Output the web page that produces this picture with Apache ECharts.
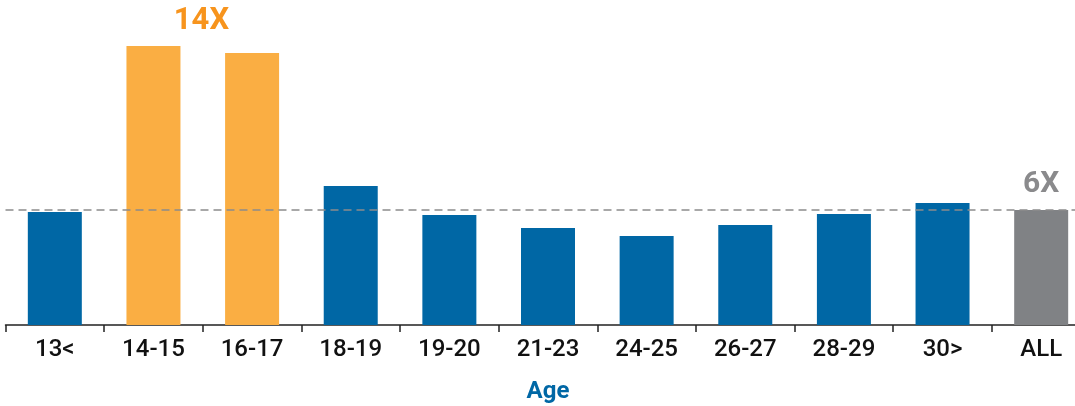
<!DOCTYPE html>
<html>
<head>
<meta charset="utf-8">
<script src="https://cdn.jsdelivr.net/npm/echarts@6/dist/echarts.min.js"></script>
<style>
html,body{margin:0;padding:0;background:#fff;}
#c{width:1075px;height:406px;}
</style>
</head>
<body>
<div id="c"></div>
<script>
const categories = ['13<', '14-15', '16-17', '18-19', '19-20', '21-23', '24-25', '26-27', '28-29', '30>', 'ALL'];
const values = [5.9, 14.56, 14.19, 7.25, 5.74, 5.06, 4.64, 5.22, 5.79, 6.37, 6.0];
const barKinds = ['base', 'high', 'high', 'base', 'base', 'base', 'base', 'base', 'base', 'base', 'all'];
const averageValue = 6;
const highLabel = '14X';
const averageLabel = '6X';
const axisName = 'Age';

const colors = { base: '#0067A5', high: '#FAAE43', all: '#808285' };
const FONT = 'Roboto, Inter, sans-serif';

const data = values.map((v, i) => {
  const item = { value: v, itemStyle: { color: colors[barKinds[i]] } };
  if (i === 1) {
    item.label = {
      show: true, position: 'top', formatter: highLabel, offset: [48, 0], distance: 9,
      color: '#F7941D', fontSize: 31, fontWeight: 'bold', fontFamily: FONT
    };
  }
  if (i === values.length - 1) {
    item.label = {
      show: true, position: 'top', formatter: averageLabel, distance: 11,
      color: '#8A8A8C', fontSize: 30, fontWeight: 'bold', fontFamily: FONT
    };
  }
  return item;
});

const chart = echarts.init(document.getElementById('c'), null, { renderer: 'canvas' });
chart.setOption({
  animation: false,
  grid: { left: 5.5, top: 37.5, width: 1085, bottom: 81, containLabel: false, outerBoundsMode: 'none' },
  xAxis: {
    type: 'category',
    data: categories,
    name: axisName,
    nameLocation: 'middle',
    nameGap: 55,
    nameTextStyle: { color: '#0067A5', fontSize: 24, fontWeight: 'bold', fontFamily: FONT },
    axisLine: { lineStyle: { color: '#222', width: 1.5 } },
    axisTick: { show: true, length: 7, lineStyle: { color: '#222', width: 1.5 } },
    axisLabel: { color: '#111', fontSize: 24, fontWeight: 500, margin: 13, fontFamily: FONT }
  },
  yAxis: {
    type: 'value', min: 0, max: 15, show: false, splitLine: { show: false }
  },
  series: [{
    type: 'bar',
    data: data,
    barWidth: 54,
    markLine: {
      silent: true,
      symbol: 'none',
      label: { show: false },
      lineStyle: { color: '#8C8C8C', type: [8, 5], width: 1.5 },
      data: [{ yAxis: averageValue }],
      z: 10
    }
  }]
});
</script>
</body>
</html>
